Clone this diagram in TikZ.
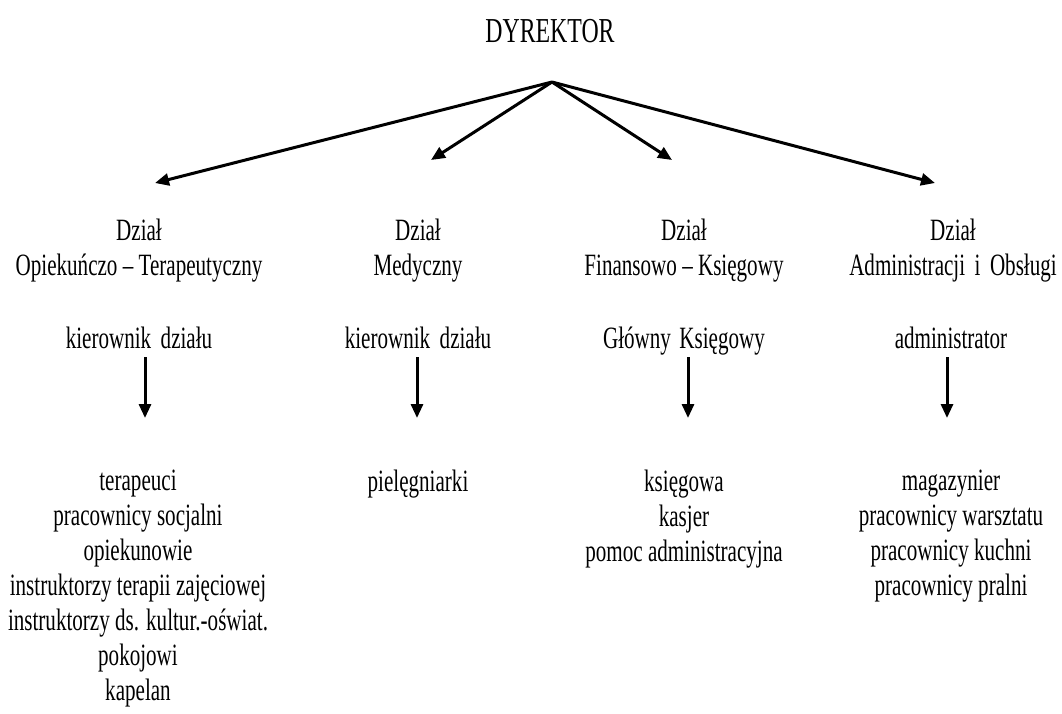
\documentclass[tikz,border=0pt]{standalone}
\usepackage{fontspec}
\setmainfont{Liberation Serif}
\usetikzlibrary{arrows.meta}

\begin{document}
\begin{tikzpicture}[x=1pt,y=-1pt,
      lbl/.style={align=center,inner sep=0pt,anchor=north,xscale=0.68,
                  font=\fontsize{31}{35}\selectfont},
      arr/.style={line width=3pt,-{Triangle[length=14pt,width=12pt]}}]
    \useasboundingbox (0,0) rectangle (1062,713);
    \node[lbl,anchor=base,font=\fontsize{35}{40}\selectfont] (dyr) at (550,42) {DYREKTOR};
    % departments
    \node[lbl] (d1) at (139,219) {Dział\\Opiekuńczo – Terapeutyczny};
    \node[lbl] (d2) at (418,219) {Dział\\Medyczny};
    \node[lbl] (d3) at (684,219) {Dział\\Finansowo – Księgowy};
    \node[lbl] (d4) at (953,219) {Dział\\Administracji\hspace{0.45em}i\hspace{0.45em}Obsługi};
    % heads
    \node[lbl,anchor=base] (k1) at (139,348) {kierownik\hspace{0.45em}działu};
    \node[lbl,anchor=base] (k2) at (418,348) {kierownik\hspace{0.45em}działu};
    \node[lbl,anchor=base] (k3) at (684,348) {Główny\hspace{0.4em}Księgowy};
    \node[lbl,anchor=base] (k4) at (951,348) {administrator};
    % staff
    \node[lbl] (p1) at (138,470) {terapeuci\\pracownicy socjalni\\opiekunowie\\
      instruktorzy terapii zajęciowej\\instruktorzy ds. kultur.-oświat.\\pokojowi\\kapelan};
    \node[lbl] (p2) at (418,470) {pielęgniarki};
    \node[lbl] (p3) at (684,470) {księgowa\\kasjer\\pomoc administracyjna};
    \node[lbl] (p4) at (951,470) {magazynier\\pracownicy warsztatu\\pracownicy kuchni\\pracownicy pralni};
    % arrows
    \coordinate (fork) at (552,82);
    \coordinate (a1) at (155,183);
    \coordinate (a2) at (431,160);
    \coordinate (a3) at (672,160);
    \coordinate (a4) at (935,183);
    \foreach \i in {1,...,4} \draw[arr] (fork) -- (a\i);
    \coordinate (b1) at (145,418);
    \coordinate (b2) at (417,418);
    \coordinate (b3) at (688,418);
    \coordinate (b4) at (947,418);
    \foreach \i in {1,...,4} \draw[arr,shorten <=9pt] (k\i.base -| b\i) -- (b\i);
  \end{tikzpicture}
\end{document}
